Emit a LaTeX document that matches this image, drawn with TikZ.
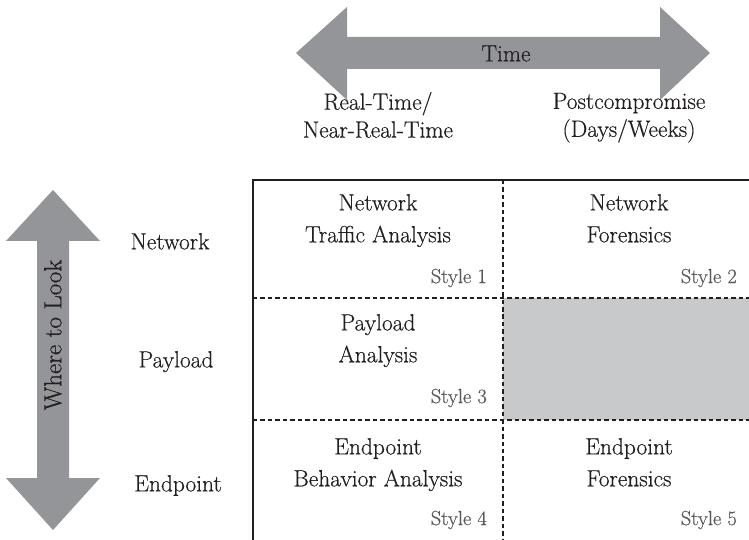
\documentclass[tikz,border=0pt]{standalone}
\usepackage{fontspec}
\newfontfamily\inkfont{Latin Modern Roman}[FakeBold=0.5]
\begin{document}
\begin{tikzpicture}[x=1bp,y=-1bp,
  bigarrow/.style={fill=arrowgray,draw=none},
  label/.style={text=ink,font=\inkfont\fontsize{23.5}{32}\selectfont,align=center,inner sep=0pt,
    execute at begin node=\strut,execute at end node=\strut},
  heading/.style={label,font=\inkfont\fontsize{23.5}{28}\selectfont},
  stylelbl/.style={text=stylegray,font=\inkfont\fontsize{20.5}{24}\selectfont,anchor=east,inner sep=0pt},
  frame/.style={line width=2pt,draw=ink},
  divider/.style={line width=1.3pt,draw=ink,dash pattern=on 4.5pt off 3pt}]
\definecolor{arrowgray}{HTML}{939598}
\definecolor{cellgray}{HTML}{C8C9CB}
\definecolor{ink}{HTML}{231F20}
\definecolor{stylegray}{HTML}{58595B}
\useasboundingbox (0,0) rectangle (749,540);

% grid corners and divider positions
\coordinate (tl) at (253,180);
\coordinate (tr) at (749,180);
\coordinate (bl) at (253,540);
\coordinate (midtop) at (503,180);
\coordinate (midbot) at (503,540);
\coordinate (r1l) at (253,298);
\coordinate (r1r) at (749,298);
\coordinate (r2l) at (253,420);
\coordinate (r2r) at (749,420);

% shaded empty cell
\fill[cellgray] (503,298) rectangle (749,420);

% horizontal double arrow
\fill[bigarrow] (296,53) -- (347,7) -- (347,37) -- (660,37) -- (660,7) -- (710,53)
  -- (660,100) -- (660,69) -- (347,69) -- (347,100) -- cycle;
\node[label] (time) at (506,55) {Time};

% vertical double arrow
\fill[bigarrow] (53,190) -- (100,241) -- (69,241) -- (69,478) -- (100,478) -- (53,530)
  -- (6,478) -- (37,478) -- (37,241) -- (6,241) -- cycle;
\node[label,rotate=90,font=\inkfont\fontsize{25}{32}\selectfont] (where) at (55,335) {Where to Look};

% grid lines
\draw[divider] (midtop) -- (midbot);
\draw[divider] (r1l) -- (r1r);
\draw[divider] (r2l) -- (r2r);
\draw[frame] (tr) -- (tl) -- (bl);

% column headings
\node[heading] (colA) at (378,119) {Real-Time/\\Near-Real-Time};
\node[heading] (colB) at (629,119) {Postcompromise\\(Days/Weeks)};

% row headings
\node[label] (rowA) at (170,243) {Network};
\node[label] (rowB) at (176,361) {Payload};
\node[label] (rowC) at (178,485) {Endpoint};

% cells
\node[label] (c11) at (378,223) {Network\\Traffic Analysis};
\node[label] (c12) at (629,223) {Network\\Forensics};
\node[label] (c21) at (378,343) {Payload\\Analysis};
\node[label] (c31) at (378,467) {Endpoint\\Behavior Analysis};
\node[label] (c32) at (629,467) {Endpoint\\Forensics};

\node[stylelbl] (s1) at (487,278) {Style 1};
\node[stylelbl] (s2) at (737,278) {Style 2};
\node[stylelbl] (s3) at (487,398) {Style 3};
\node[stylelbl] (s4) at (487,520) {Style 4};
\node[stylelbl] (s5) at (737,520) {Style 5};
\end{tikzpicture}
\end{document}
